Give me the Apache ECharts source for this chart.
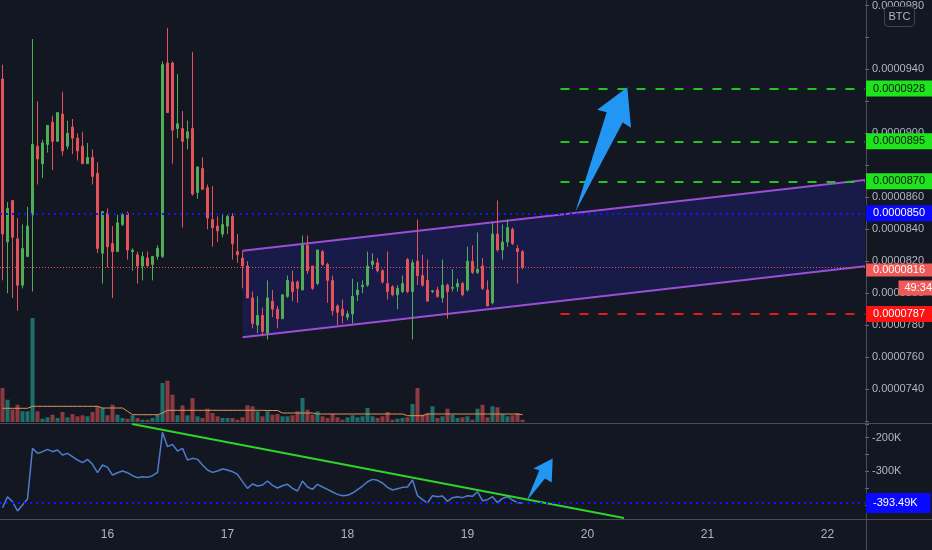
<!DOCTYPE html>
<html>
<head>
<meta charset="utf-8">
<title>BTC 1h channel</title>
<script src="https://cdn.jsdelivr.net/npm/echarts@6/dist/echarts.min.js"></script>
<style>
  html, body { margin: 0; padding: 0; background: #131722; }
  #main { width: 932px; height: 550px; }
</style>
</head>
<body>
<div id="main"></div>
<script>
// prices are in units of 0.0000001 BTC (850 -> 0.0000850)
var opens = [934, 832, 858, 834, 805, 823, 849, 892, 881, 893,
  907, 895, 912, 892, 904, 897, 892, 881, 885, 875,
  825, 850, 831, 826, 843, 850, 826, 824, 817, 822,
  818, 823, 823, 944, 944, 903, 903, 897, 903, 863,
  878, 866, 846, 842, 837, 842, 848, 826, 822, 817,
  797, 780, 786, 775, 795, 790, 784, 798, 807, 807,
  802, 830, 817, 806, 826, 818, 808, 792, 790, 785,
  787, 799, 804, 805, 818, 819, 814, 806, 804, 799,
  801, 821, 801, 820, 811, 808, 801, 802, 797, 805,
  803, 804, 806, 802, 820, 813, 817, 802, 794, 837,
  827, 832, 840, 828, 826];
var closes = [837, 853, 835, 805, 828, 842, 893, 884, 894, 905,
  895, 913, 889, 900, 897, 889, 881, 885, 873, 828,
  851, 829, 826, 844, 849, 827, 827, 817, 823, 817,
  823, 828, 943, 913, 902, 906, 895, 901, 862, 879,
  865, 847, 841, 839, 843, 848, 831, 824, 817, 797,
  781, 786, 776, 797, 790, 784, 799, 808, 801, 803,
  830, 814, 803, 827, 818, 808, 789, 788, 786, 787,
  798, 802, 805, 817, 820, 814, 807, 801, 799, 803,
  806, 801, 819, 811, 805, 795, 801.5, 798, 805, 801,
  803.5, 806, 799, 820, 813, 815, 803, 792, 837, 827,
  832, 841, 831, 826, 816];
var lows = [808, 800, 797, 789, 803, 823, 801, 868, 872, 888,
  877, 895, 886, 890, 887, 883, 881, 881, 868, 825,
  806, 816, 797, 826, 842, 821, 814, 806, 808, 817,
  808, 821, 822, 913, 881, 897, 841, 890, 861, 859,
  865, 840, 829, 832, 835, 837, 821, 819, 803, 797,
  778, 775, 773, 771, 785, 778, 784, 797, 795, 794,
  802, 812, 802, 805, 817, 794, 786, 780, 781, 783,
  781, 795, 800, 804, 815, 813, 806, 796, 798, 790,
  800, 800, 771, 805, 804, 795, 800, 797, 794, 784,
  801, 801, 798, 801, 812, 812, 802, 792, 793, 826,
  821, 829, 830, 806, 815];
var highs = [943, 857, 858, 847, 843, 854, 959, 920, 896, 905,
  911, 913, 926, 908, 909, 900, 901, 894, 890, 882,
  851, 853, 842, 849, 850, 851, 828, 826, 826, 826,
  823, 830, 945, 966, 945, 937, 914, 908, 951, 879,
  885, 868, 867, 848, 849, 849, 850, 837, 826.5, 820,
  801, 798, 791, 808, 802, 792, 799, 811, 814, 808,
  836, 836, 817, 827, 827, 819, 811, 793, 796, 789,
  809, 807, 808, 826, 825, 822, 815, 826, 805, 805,
  811, 822, 821, 846, 824, 821, 802, 804, 821, 806,
  815, 809, 807, 829, 830, 838, 822, 808, 844, 858,
  843, 846, 841, 830, 827];
var volumes = [34, 22.3, 12.3, 17.3, 10.7, 10.7, 104, 10.7, 3.3, 4.7,
  7.3, 4, 10, 4.7, 8, 5.7, 6.7, 5.7, 10, 15.7,
  14, 6.7, 17.3, 7.3, 4, 3.3, 6.7, 4, 2.3, 2.3,
  4, 7.3, 39, 41.3, 27.3, 6.7, 16.7, 6.7, 24, 5.7,
  4, 13.3, 9, 5.7, 4, 4, 4, 2.3, 4.7, 16.7,
  15.7, 10.7, 5.7, 10.7, 7.3, 8, 5.7, 5.7, 6.7, 10.7,
  24, 12.3, 7.3, 10.7, 5.7, 4, 8, 4.7, 2.3, 4.7,
  6.7, 4.7, 5.7, 14, 5.7, 4, 5.7, 10, 2.3, 3.3,
  4, 4.7, 18, 34, 7.3, 9, 15.7, 4, 5.7, 13.3,
  7.3, 4, 4.7, 5.7, 2.3, 13.3, 17.3, 4.7, 15.7, 14.7,
  8, 5.7, 6.7, 9, 2.3];
var volumeMA = [13.7, 13.7, 13.7, 13.7, 13.7, 13.7, 15.7, 15.7, 15.7, 15.7,
  15.7, 15.7, 15.7, 15.7, 15.7, 15.7, 15.7, 15.7, 15.7, 15.7,
  14, 14, 14, 14, 14, 10.7, 7.3, 7.3, 7.3, 7.3,
  7.3, 7.3, 9, 11.7, 11.7, 11.7, 11.7, 11.7, 11.7, 11.7,
  11.7, 11.7, 11.7, 11.7, 11.7, 11.7, 11.7, 11.7, 11.7, 11.7,
  11.7, 11.7, 11.7, 11.5, 11.5, 11.5, 9, 9, 9, 9,
  9, 9, 9, 8, 8, 8, 8, 8, 8, 8,
  8, 8, 8, 8, 8, 8, 8, 8, 8, 8,
  8, 6.3, 6.3, 6.3, 6.3, 8, 8, 8, 8, 8,
  8, 8, 8, 8, 8, 8, 8, 8, 8, 8,
  8, 8, 8, 8, 7.3];
// on-balance volume, thousands
var obv = [-407.4, -374.9, -389.7, -417.2, -399.5, -381.8, -232.1, -246.8, -241.9, -235,
  -241.9, -237, -251.8, -246.8, -256.7, -266.5, -274.4, -264.6, -279.3, -304,
  -281.3, -288.2, -310.9, -304, -299, -304, -312.8, -318.7, -315.8, -317.7,
  -312.8, -303, -184.8, -227.1, -220.2, -240, -232.1, -266.5, -261.6, -264.6,
  -281.3, -296.1, -303, -299, -293.1, -296.1, -301, -308.9, -330.5, -350.3,
  -337.4, -343.4, -340.4, -328.6, -341.4, -349.3, -342.4, -338.4, -350.3, -358.1,
  -328.6, -346.3, -353.2, -338.4, -346.3, -353.2, -361.1, -368, -371.9, -370.9,
  -364, -354.2, -343.4, -330.6, -323.7, -326.6, -334.5, -347.3, -355.2, -351.2,
  -347.3, -346.3, -325.6, -371.9, -383.7, -393.6, -371.9, -374.9, -372.9, -388.7,
  -377.8, -374.9, -377.8, -371.9, -373.9, -360.1, -386.7, -383.7, -374.9, -392.6,
  -379.8, -374.9, -384.7, -392.6, -393.49];

// drawings, in [hour slot, price] coordinates
var channelTop = [[48, 826.5], [172.6, 870.9]];
var channelBottom = [[48, 772.4], [172.6, 816.8]];
var greenLevels = [928, 895, 870];
var redLevel = 787;
var blueLevel = 850;
var lastPrice = 816;
var countdown = '49:34';
var levelStart = 111.6;
var priceArrow = [[114.56, 850.8], [120.84, 913.2], [118.96, 914.8], [124.96, 928.8], [125.7, 903.5], [124.04, 906.8]];
var obvTrend = [[25.9, -160.1], [124.3, -437.8]];
var obvArrow = [[104.84, -387.6], [107.36, -296.5], [106.16, -291.6], [110.04, -262.4], [109.84, -332.6], [108.5, -321]];
var obvLevel = -393.49;
var hiddenPriceTicks = [720, 880, 920, 960];
var dayLabels = ['16', '17', '18', '19', '20', '21', '22'];

// hourly slots, first one is the 15th 03:00
var firstDay = 15, firstHour = 3, slotCount = 173;
var hours = [];
for (var i = 0; i < slotCount; i++) {
  var h = firstHour + i;
  var d = firstDay + Math.floor(h / 24);
  var hh = h % 24;
  hours.push(d + ' ' + (hh < 10 ? '0' : '') + hh + ':00');
}

var FONT = '"Liberation Sans", Arial, sans-serif';
var FS = 11;
var TXT = '#b2b5be';
var UP = '#4fae55', DOWN = '#e4535a';

function fmt(v) { return (v / 1e7).toFixed(7); }

function polygonItem(points, color) {
  return function (params, api) {
    var pts = points.map(function (p) { return api.coord(p); });
    return { type: 'polygon', shape: { points: pts }, style: { fill: color } };
  };
}

var candleData = opens.map(function (o, i) { return [o, closes[i], lows[i], highs[i]]; });
var volData = volumes.map(function (v, i) {
  return { value: v, itemStyle: { color: closes[i] >= opens[i] ? '#1f6e69' : '#8c3a40' } };
});

var lvlLabel = { position: 'end', distance: 1, fontFamily: FONT, fontSize: FS, lineHeight: 14, padding: [1, 13, 1, 7] };

var chart = echarts.init(document.getElementById('main'));
chart.setOption({
  backgroundColor: '#131722',
  animation: false,
  textStyle: { fontFamily: FONT },
  grid: [
    { left: 0, right: 67, top: 1, height: 420 },
    { left: 0, right: 67, top: 302, height: 120 },
    { left: 0, right: 67, top: 424, height: 95 }
  ],
  xAxis: [
    { type: 'category', gridIndex: 0, data: hours, show: false },
    { type: 'category', gridIndex: 1, data: hours, show: false },
    { type: 'category', gridIndex: 2, data: hours,
      axisLine: { show: false }, axisTick: { show: false },
      axisLabel: {
        color: TXT, fontSize: 12, margin: 10, fontFamily: FONT,
        interval: function (idx, val) { return val.slice(-5) === '00:00' && dayLabels.indexOf(val.slice(0, 2)) >= 0; },
        formatter: function (val) { return val.slice(0, 2); }
      } },
    { type: 'value', gridIndex: 0, min: -0.5, max: slotCount - 0.5, show: false },
    { type: 'value', gridIndex: 2, min: -0.5, max: slotCount - 0.5, show: false }
  ],
  yAxis: [
    { type: 'value', gridIndex: 0, position: 'right', min: 720, max: 980, interval: 20,
      axisLine: { show: false, onZero: false },
      axisTick: { show: true, length: 4, lineStyle: { color: '#70737d' } },
      splitLine: { show: false },
      axisLabel: { color: TXT, fontSize: FS, margin: 7, fontFamily: FONT,
        formatter: function (v) { return hiddenPriceTicks.indexOf(v) >= 0 ? '' : fmt(v); } } },
    { type: 'value', gridIndex: 1, min: 0, max: 120, show: false },
    { type: 'value', gridIndex: 2, position: 'right', min: -440.8, max: -160.1, splitNumber: 5,
      axisLine: { show: false, onZero: false },
      axisTick: { show: true, length: 4, lineStyle: { color: '#70737d' } },
      splitLine: { show: false },
      axisLabel: { color: TXT, fontSize: FS, margin: 7, fontFamily: FONT,
        formatter: function (v) { return (Math.abs(v % 100) < 1e-6 && v > -390) ? v + 'K' : ''; } } }
  ],
  graphic: [
    { type: 'line', shape: { x1: 866.5, y1: 0, x2: 866.5, y2: 550 }, style: { stroke: '#4a4d57', lineWidth: 1 }, z: 1 },
    { type: 'line', shape: { x1: 0, y1: 423.5, x2: 932, y2: 423.5 }, style: { stroke: '#4a4d57', lineWidth: 1 }, z: 1 },
    { type: 'line', shape: { x1: 0, y1: 519.5, x2: 932, y2: 519.5 }, style: { stroke: '#4a4d57', lineWidth: 1 }, z: 1 },
    { type: 'rect', shape: { x: 884.5, y: 6.5, width: 30, height: 20, r: 4 },
      style: { fill: '#131722', stroke: '#434651', lineWidth: 1 }, z: 100 },
    { type: 'text', x: 899.5, y: 17, style: { text: 'BTC', fill: TXT, font: '11px ' + FONT, textAlign: 'center', textVerticalAlign: 'middle' }, z: 101 }
  ],
  series: [
    { type: 'custom', name: 'channel', xAxisIndex: 3, yAxisIndex: 0, clip: true, z: 1,
      data: [channelTop[0]],
      renderItem: function (params, api) {
        var top = channelTop.map(function (p) { return api.coord(p); });
        var bot = channelBottom.map(function (p) { return api.coord(p); });
        return { type: 'group', children: [
          { type: 'polygon', shape: { points: top.concat(bot.slice().reverse()) }, style: { fill: 'rgba(36,34,150,0.32)' } },
          { type: 'polyline', shape: { points: top }, style: { stroke: '#9b4fd8', lineWidth: 2, fill: null } },
          { type: 'polyline', shape: { points: bot }, style: { stroke: '#9b4fd8', lineWidth: 2, fill: null } }
        ] };
      },
      markLine: {
        symbol: ['none', 'none'], silent: true, animation: false, z: 5,
        label: lvlLabel,
        data: greenLevels.map(function (v) {
          return [{ coord: [levelStart, v], lineStyle: { color: '#24c424', type: [9, 10], width: 2 },
                    label: { formatter: fmt(v), backgroundColor: '#1de41d', color: '#0b160b' } },
                  { coord: [slotCount - 0.5, v] }];
        }).concat([
          [{ coord: [levelStart, redLevel], lineStyle: { color: '#e11c1c', type: [9, 10], width: 2 },
             label: { formatter: fmt(redLevel), backgroundColor: '#ff1212', color: '#ffffff' } },
           { coord: [slotCount - 0.5, redLevel] }],
          { yAxis: blueLevel, lineStyle: { color: '#1212ff', type: [2, 4], width: 2 },
            label: { formatter: fmt(blueLevel), backgroundColor: '#0909ff', color: '#ffffff' } },
          { yAxis: lastPrice, lineStyle: { color: '#ef5350', type: [1, 2], width: 1 },
            label: { formatter: '{p|' + fmt(lastPrice) + '}\n{g|}\n{t|' + countdown + '}',
              padding: 0, offset: [0, 12],
              rich: {
                p: { backgroundColor: '#ee5a58', color: '#ffffff', fontSize: FS, lineHeight: 14, fontFamily: FONT, padding: [1, 13, 1, 7] },
                g: { height: 3, lineHeight: 3 },
                t: { backgroundColor: '#ee5a58', color: '#ffffff', fontSize: FS, lineHeight: 16, fontFamily: FONT, padding: [2, 6, 2, 6], align: 'right' }
              } } }
        ])
      } },
    { type: 'candlestick', name: 'BTC', xAxisIndex: 0, yAxisIndex: 0, z: 3,
      data: candleData, barWidth: 3,
      itemStyle: { color: UP, color0: DOWN, borderColor: UP, borderColor0: DOWN, borderWidth: 1 } },
    { type: 'bar', name: 'Volume', xAxisIndex: 1, yAxisIndex: 1, data: volData, barWidth: 4, z: 2 },
    { type: 'line', name: 'Volume MA', xAxisIndex: 1, yAxisIndex: 1, data: volumeMA, showSymbol: false,
      lineStyle: { color: '#e0955a', width: 1 }, z: 3 },
    { type: 'custom', name: 'arrow', xAxisIndex: 3, yAxisIndex: 0, clip: true, z: 6,
      data: [priceArrow[0]], renderItem: polygonItem(priceArrow, '#2196f3') },
    { type: 'line', name: 'OBV', xAxisIndex: 2, yAxisIndex: 2, data: obv, showSymbol: false,
      lineStyle: { color: '#4e7ccd', width: 1.5 }, z: 3,
      markLine: {
        symbol: ['none', 'none'], silent: true, animation: false,
        data: [{ yAxis: obvLevel, lineStyle: { color: '#1212ff', type: [2, 4], width: 2 },
          label: { position: 'end', distance: 1, fontFamily: FONT, fontSize: FS, lineHeight: 14, padding: [3, 13, 3, 7],
            formatter: obvLevel.toFixed(2) + 'K', backgroundColor: '#0909ff', color: '#ffffff' } }]
      } },
    { type: 'line', name: 'OBV trend', xAxisIndex: 4, yAxisIndex: 2, data: obvTrend, showSymbol: false,
      lineStyle: { color: '#2fd42a', width: 2 }, z: 4 },
    { type: 'custom', name: 'arrow2', xAxisIndex: 4, yAxisIndex: 2, clip: true, z: 6,
      data: [obvArrow[0]], renderItem: polygonItem(obvArrow, '#2196f3') }
  ]
});
</script>
</body>
</html>
